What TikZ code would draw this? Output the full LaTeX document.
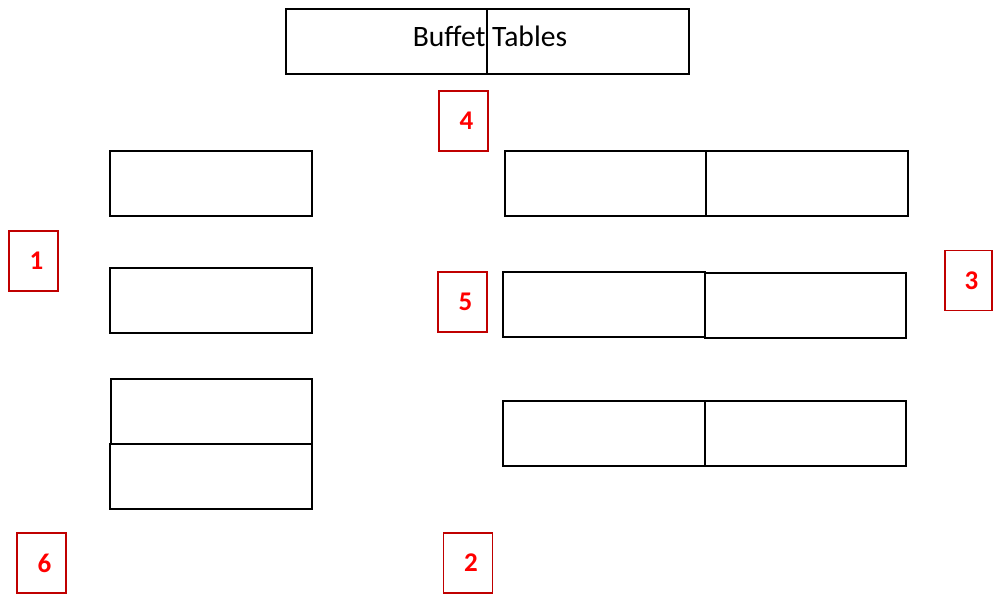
\documentclass[tikz,border=0pt]{standalone}
\usepackage{fontspec}
\setmainfont{Carlito}
\definecolor{boxred}{HTML}{C00000}
\definecolor{numred}{HTML}{FF0000}
\begin{document}
\begin{tikzpicture}[x=1pt,y=-1pt,
  tbl/.style={draw=black,line width=1.6pt,minimum height=65pt,inner sep=0pt,outer sep=0pt},
  numbox/.style={draw=boxred,line width=1.4pt,minimum width=49pt,minimum height=60pt,inner sep=0pt,
    font=\fontsize{27}{31}\selectfont\bfseries,text=numred},
  lbl/.style={inner sep=0pt,font=\fontsize{29.6}{35}\selectfont}]
\useasboundingbox (0,0) rectangle (994,596);
% buffet tables
\node[tbl,minimum width=201pt] (bl) at (386.5,41.5) {};
\node[tbl,minimum width=202pt] (br) at (588,41.5) {};
\node[lbl,anchor=base] (btxt) at (490,46.5) {Buffet Tables};
% left tables
\node[tbl,minimum width=202pt] (t1) at (211,183.5) {};
\node[tbl,minimum width=202pt] (t2) at (211,300.5) {};
\node[tbl,minimum width=201pt] (t3) at (211.5,411.5) {};
\node[tbl,minimum width=202pt] (t4) at (211,476.5) {};
% right tables
\node[tbl,minimum width=201pt] (r1l) at (605.5,183.5) {};
\node[tbl,minimum width=202pt] (r1r) at (807,183.5) {};
\node[tbl,minimum width=202pt] (r2l) at (604,304.5) {};
\node[tbl,minimum width=201pt] (r2r) at (805.5,305.5) {};
\node[tbl,minimum width=202pt] (r3l) at (604,433.5) {};
\node[tbl,minimum width=201pt] (r3r) at (805.5,433.5) {};
% numbered markers
\node[numbox] (n4) at (463.5,121) {\hspace{6pt}4};
\node[numbox] (n1) at (33.5,261) {\hspace{6pt}1};
\node[numbox,minimum width=47pt] (n3) at (968.5,280.5) {\hspace{6pt}3};
\node[numbox] (n6) at (41.5,563) {\hspace{6pt}6};
\node[numbox] (n5) at (462.5,302) {\hspace{6pt}5};
\node[numbox] (n2) at (468,563) {\hspace{6pt}2};
\end{tikzpicture}
\end{document}
